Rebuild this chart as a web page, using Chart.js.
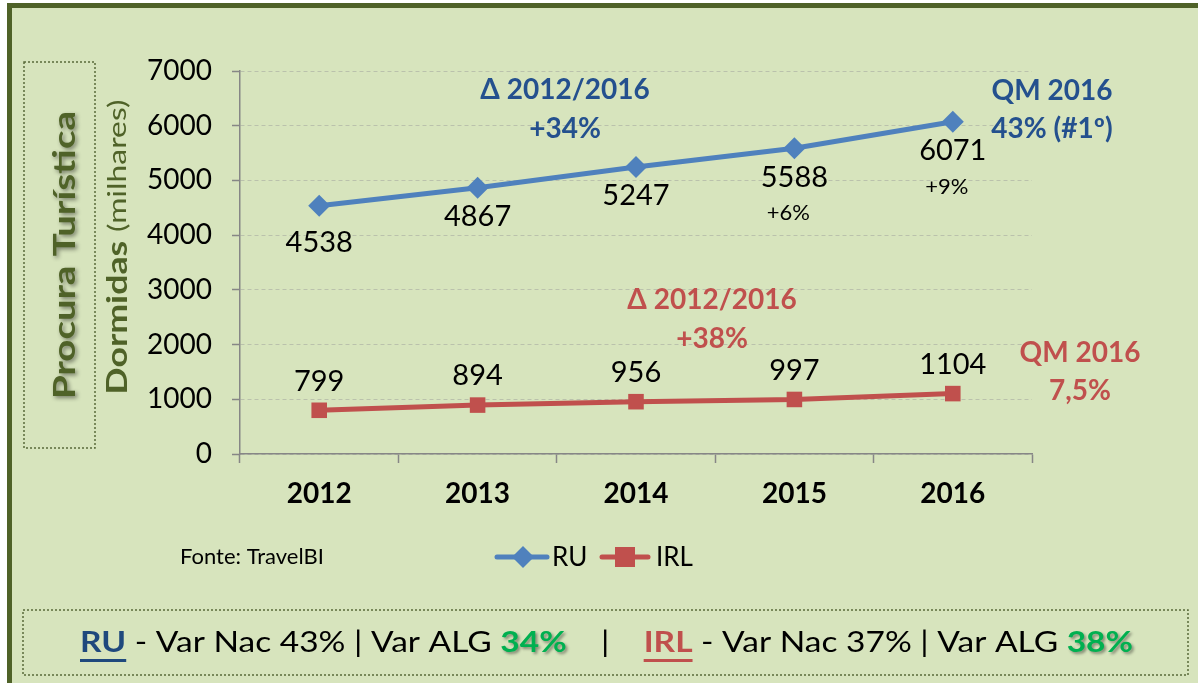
<!DOCTYPE html>
<html>
<head>
<meta charset="utf-8">
<script src="https://cdn.jsdelivr.net/npm/chart.js@4"></script>
<style>
  body { margin: 0; background: #fff; }
  #frame { position: absolute; left: 7px; top: 3px; width: 1200px; height: 690px;
           background: #D7E4BD; border-left: 5px solid #4F6228; border-top: 5px solid #4F6228; }
  #wrap { position: absolute; left: 0; top: 0; width: 1198px; height: 683px; }
</style>
</head>
<body>
<div id="frame"></div>
<div id="wrap"><canvas id="mycanvas" width="1198" height="683"></canvas></div>
<script>
var years = ['2012', '2013', '2014', '2015', '2016'];
var ru = [4538, 4867, 5247, 5588, 6071];
var irl = [799, 894, 956, 997, 1104];
var ruGrowth = ['', '', '', '+6%', '+9%'];
var yTicks = [0, 1000, 2000, 3000, 4000, 5000, 6000, 7000];

var FONT = 'Lato, "Open Sans", sans-serif';
var BLUE = '#4F81BD', RED = '#C0504D', DBLUE = '#24508E', GREEN = '#00B050', OLIVE = '#4F6228';

function txt(ctx, s, x, y, size, weight, color, align) {
  ctx.font = weight + ' ' + size + 'px ' + FONT;
  ctx.fillStyle = color;
  ctx.textAlign = align || 'center';
  ctx.textBaseline = 'middle';
  ctx.fillText(s, x, y);
}

var extras = {
  id: 'extras',
  afterDatasetsDraw: function(chart) {
    var ctx = chart.ctx;
    ctx.save();
    // value labels
    var m0 = chart.getDatasetMeta(0), m1 = chart.getDatasetMeta(1);
    m0.data.forEach(function(p, i) {
      var dy = i === 0 ? 37 : 29;
      txt(ctx, String(ru[i]), p.x, p.y + dy, 29, 'normal', '#000');
      if (ruGrowth[i]) txt(ctx, ruGrowth[i], p.x - 6, p.y + 65, 22, 'normal', '#000');
    });
    m1.data.forEach(function(p, i) {
      txt(ctx, String(irl[i]), p.x, p.y - 29, 29, 'normal', '#000');
    });
    // annotations
    txt(ctx, 'Δ 2012/2016', 565, 90, 28, 'bold', DBLUE);
    txt(ctx, '+34%', 565, 129, 28, 'bold', DBLUE);
    txt(ctx, 'QM 2016', 1052, 91, 28, 'bold', DBLUE);
    txt(ctx, '43% (#1º)', 1052, 129, 28, 'bold', DBLUE);
    txt(ctx, 'Δ 2012/2016', 712, 300, 28, 'bold', RED);
    txt(ctx, '+38%', 712, 339, 28, 'bold', RED);
    txt(ctx, 'QM 2016', 1080, 353, 28, 'bold', RED);
    txt(ctx, '7,5%', 1080, 391, 28, 'bold', RED);

    // source + legend
    txt(ctx, 'Fonte: TravelBI', 180, 557, 22, 'normal', '#000', 'left');
    ctx.lineCap = 'round';
    ctx.lineWidth = 5;
    ctx.strokeStyle = BLUE;
    ctx.beginPath(); ctx.moveTo(497, 557); ctx.lineTo(547, 557); ctx.stroke();
    ctx.fillStyle = BLUE;
    ctx.beginPath(); ctx.moveTo(523, 546); ctx.lineTo(534, 557); ctx.lineTo(523, 568); ctx.lineTo(512, 557); ctx.closePath(); ctx.fill();
    txt(ctx, 'RU', 552, 558, 26, 'normal', '#000', 'left');
    ctx.strokeStyle = RED;
    ctx.beginPath(); ctx.moveTo(602, 557); ctx.lineTo(648, 557); ctx.stroke();
    ctx.fillStyle = RED;
    ctx.fillRect(615, 547, 20, 20);
    txt(ctx, 'IRL', 656, 558, 26, 'normal', '#000', 'left');

    // dotted boxes
    ctx.lineCap = 'butt';
    ctx.lineWidth = 1.5;
    ctx.strokeStyle = '#5a6a3a';
    ctx.setLineDash([2, 2]);
    ctx.strokeRect(24, 62, 71, 386);
    ctx.strokeRect(23, 610, 1165, 65);
    ctx.setLineDash([]);

    // vertical titles
    ctx.save();
    ctx.translate(65, 255);
    ctx.rotate(-Math.PI / 2);
    ctx.shadowColor = 'rgba(0,0,0,0.45)';
    ctx.shadowBlur = 4;
    ctx.shadowOffsetX = 2;
    ctx.shadowOffsetY = 2;
    ctx.font = 'bold 31px ' + FONT;
    var w = ctx.measureText('Procura Turística').width;
    ctx.scale(288 / w, 1);
    txt(ctx, 'Procura Turística', 0, 0, 31, 'bold', OLIVE);
    ctx.restore();

    ctx.save();
    ctx.translate(118, 247);
    ctx.rotate(-Math.PI / 2);
    ctx.font = 'bold 28px ' + FONT;
    var w1 = ctx.measureText('Dormidas ').width;
    ctx.font = 'normal 25px ' + FONT;
    var w2 = ctx.measureText('(milhares)').width;
    ctx.scale(295 / (w1 + w2), 1);
    var x0 = -(w1 + w2) / 2;
    txt(ctx, 'Dormidas ', x0, 0, 28, 'bold', OLIVE, 'left');
    txt(ctx, '(milhares)', x0 + w1, 0, 25, 'normal', OLIVE, 'left');
    ctx.restore();

    // bottom summary line
    var segs = [
      { t: 'RU', w: 'bold', c: '#1F497D', u: true },
      { t: ' - Var Nac 43% | Var ALG ', w: 'normal', c: '#000' },
      { t: '34%', w: 'bold', c: GREEN, s: true },
      { t: '    |    ', w: 'normal', c: '#000' },
      { t: 'IRL', w: 'bold', c: RED, u: true },
      { t: ' - Var Nac 37% | Var ALG ', w: 'normal', c: '#000' },
      { t: '38%', w: 'bold', c: GREEN, s: true }
    ];
    var size = 28, total = 0;
    segs.forEach(function(g) { ctx.font = g.w + ' ' + size + 'px ' + FONT; g.width = ctx.measureText(g.t).width; total += g.width; });
    var k = 1053 / total;
    ctx.save();
    ctx.translate(80, 643);
    ctx.scale(k, 1);
    var x = 0;
    segs.forEach(function(g) {
      ctx.save();
      if (g.s) { ctx.shadowColor = 'rgba(0,0,0,0.4)'; ctx.shadowBlur = 3; ctx.shadowOffsetX = 2; ctx.shadowOffsetY = 2; }
      txt(ctx, g.t, x, 0, size, g.w, g.c, 'left');
      ctx.restore();
      if (g.u) { ctx.fillStyle = g.c; ctx.fillRect(x, 16, g.width, 3); }
      x += g.width;
    });
    ctx.restore();
    ctx.restore();
  }
};

var chartdata = {
  labels: years,
  datasets: [
    { label: 'RU', data: ru, borderColor: BLUE, backgroundColor: BLUE, borderWidth: 5,
      pointStyle: 'rectRot', pointRadius: 11, pointHoverRadius: 11, pointBorderWidth: 0, tension: 0 },
    { label: 'IRL', data: irl, borderColor: RED, backgroundColor: RED, borderWidth: 5,
      pointStyle: 'rect', pointRadius: 11, pointHoverRadius: 11, pointBorderWidth: 0, tension: 0 }
  ]
};

var ctx = document.getElementById('mycanvas');
new Chart(ctx, {
  type: 'line',
  data: chartdata,
  options: {
    responsive: false,
    animation: false,
    events: [],
    layout: { padding: { left: 0, right: 166, top: 71, bottom: 0 } },
    plugins: { legend: { display: false }, tooltip: { enabled: false } },
    scales: {
      x: {
        offset: true,
        grid: { offset: true, drawOnChartArea: false, tickLength: 9, tickColor: '#868686', tickWidth: 1.5 },
        border: { color: '#868686', width: 1.5 },
        ticks: { color: '#000', padding: 14, font: { family: FONT, size: 28, weight: 'bold' } },
        afterFit: function(s) { s.height = 683 - 454; }
      },
      y: {
        min: 0, max: 7000,
        afterBuildTicks: function(s) { s.ticks = yTicks.map(function(v) { return { value: v }; }); },
        grid: { color: 'rgba(150,150,150,0.45)', lineWidth: 1, tickLength: 8, tickColor: '#868686', tickWidth: 1.5 },
        border: { color: '#868686', width: 1.5, dash: [4, 3] },
        ticks: { color: '#000', padding: 20, font: { family: FONT, size: 28 },
                 callback: function(v) { return String(v); } },
        afterFit: function(s) { s.width = 240; }
      }
    }
  },
  plugins: [extras]
});
</script>
</body>
</html>
